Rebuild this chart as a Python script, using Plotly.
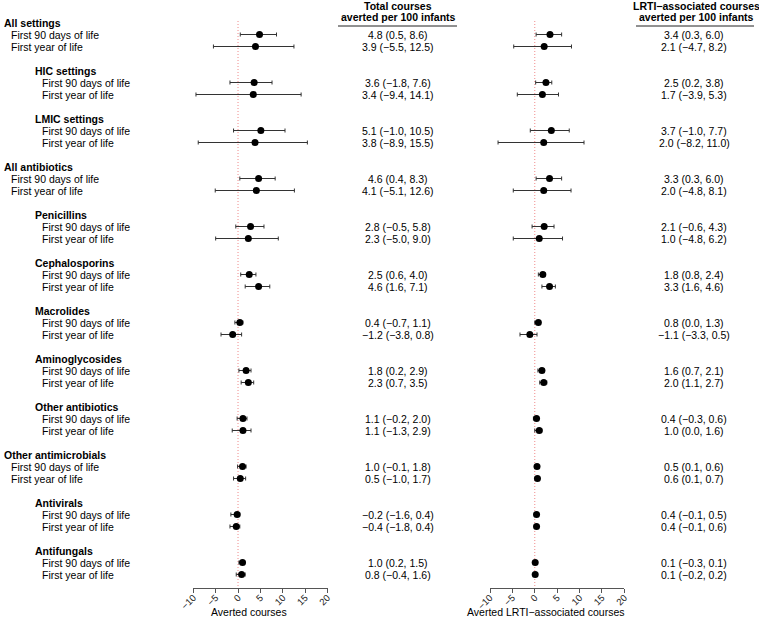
import plotly.graph_objects as go

W, H = 759, 617

groups = ["All settings", "HIC settings", "LMIC settings", "All antibiotics", "Penicillins",
          "Cephalosporins", "Macrolides", "Aminoglycosides", "Other antibiotics",
          "Other antimicrobials", "Antivirals", "Antifungals"]
levels = [0, 1, 1, 0, 1, 1, 1, 1, 1, 0, 1, 1]
periods = ["First 90 days of life", "First year of life"]

total_est_90 = [4.8, 3.6, 5.1, 4.6, 2.8, 2.5, 0.4, 1.8, 1.1, 1.0, -0.2, 1.0]
total_lo_90 = [0.5, -1.8, -1.0, 0.4, -0.5, 0.6, -0.7, 0.2, -0.2, -0.1, -1.6, 0.2]
total_hi_90 = [8.6, 7.6, 10.5, 8.3, 5.8, 4.0, 1.1, 2.9, 2.0, 1.8, 0.4, 1.5]
total_est_1y = [3.9, 3.4, 3.8, 4.1, 2.3, 4.6, -1.2, 2.3, 1.1, 0.5, -0.4, 0.8]
total_lo_1y = [-5.5, -9.4, -8.9, -5.1, -5.0, 1.6, -3.8, 0.7, -1.3, -1.0, -1.8, -0.4]
total_hi_1y = [12.5, 14.1, 15.5, 12.6, 9.0, 7.1, 0.8, 3.5, 2.9, 1.7, 0.4, 1.6]

lrti_est_90 = [3.4, 2.5, 3.7, 3.3, 2.1, 1.8, 0.8, 1.6, 0.4, 0.5, 0.4, 0.1]
lrti_lo_90 = [0.3, 0.2, -1.0, 0.3, -0.6, 0.8, 0.0, 0.7, -0.3, 0.1, -0.1, -0.3]
lrti_hi_90 = [6.0, 3.8, 7.7, 6.0, 4.3, 2.4, 1.3, 2.1, 0.6, 0.6, 0.5, 0.1]
lrti_est_1y = [2.1, 1.7, 2.0, 2.0, 1.0, 3.3, -1.1, 2.0, 1.0, 0.6, 0.4, 0.1]
lrti_lo_1y = [-4.7, -3.9, -8.2, -4.8, -4.8, 1.6, -3.3, 1.1, 0.0, 0.1, -0.1, -0.2]
lrti_hi_1y = [8.2, 5.3, 11.0, 8.1, 6.2, 4.6, 0.5, 2.7, 1.6, 0.7, 0.6, 0.2]

x_ticks = [-10, -5, 0, 5, 10, 15, 20]
header_total = ["Total courses", "averted per 100 infants"]
header_lrti = ["LRTI\u2212associated courses", "averted per 100 infants"]
xtitle_total = "Averted courses"
xtitle_lrti = "Averted LRTI\u2212associated courses"

FONT = "Liberation Sans, Arial, sans-serif"
FS = 10.5

# layout helpers (pixel -> coordinates)
ROW_PX = 12.0
ROW0_PX = 22.5
def px_to_v(p):
    return (p - ROW0_PX) / ROW_PX
def py(p):
    return 1 - p / H
def px(p):
    return p / W

def fmt(e, lo, hi):
    s = f"{e:.1f} ({lo:.1f}, {hi:.1f})"
    return s.replace("-", "\u2212")

def txt(x, y, text, xanchor="left", yref="y"):
    return dict(x=x, y=y, xref="paper", yref=yref, text=text, showarrow=False,
                xanchor=xanchor, yanchor="middle",
                font=dict(size=FS, color="black", family=FONT))

# build rows
ys, t_e, t_lo, t_hi, l_e, l_lo, l_hi = [], [], [], [], [], [], []
annotations = []
for g, name in enumerate(groups):
    base = 4 * g
    lvl = levels[g]
    hx = 2 if lvl == 0 else 33
    annotations.append(txt(px(hx), base, f"<b>{name}</b>"))
    vals = [
        (total_est_90[g], total_lo_90[g], total_hi_90[g], lrti_est_90[g], lrti_lo_90[g], lrti_hi_90[g]),
        (total_est_1y[g], total_lo_1y[g], total_hi_1y[g], lrti_est_1y[g], lrti_lo_1y[g], lrti_hi_1y[g]),
    ]
    for k, per in enumerate(periods):
        y = base + 1 + k
        ys.append(y)
        te, tl, th, le, ll, lh = vals[k]
        t_e.append(te); t_lo.append(tl); t_hi.append(th)
        l_e.append(le); l_lo.append(ll); l_hi.append(lh)
        annotations.append(txt(px(hx + 7), y, per))
        annotations.append(txt(px(398), y, fmt(te, tl, th), "center"))
        annotations.append(txt(px(694), y, fmt(le, ll, lh), "center"))

# headers
for i, (txt_t, txt_l) in enumerate(zip(header_total, header_lrti)):
    yy = [6.0, 17.5][i]
    annotations.append(txt(px(398), py(yy), f"<b>{txt_t}</b>", "center", "paper"))
    annotations.append(txt(px(696), py(yy), f"<b>{txt_l}</b>", "center", "paper"))

# axis titles
annotations.append(txt(px(249), py(611.5), xtitle_total, "center", "paper"))
annotations.append(txt(px(546), py(611.5), xtitle_lrti, "center", "paper"))

fig = go.Figure()

def add_forest(est, lo, hi, xa):
    fig.add_trace(go.Scatter(
        x=est, y=ys, mode="markers", xaxis=xa, yaxis="y",
        marker=dict(color="black", size=7, line=dict(width=0)),
        error_x=dict(type="data", symmetric=False,
                     array=[h - e for e, h in zip(est, hi)],
                     arrayminus=[e - l for e, l in zip(est, lo)],
                     color="#333333", thickness=1, width=2),
        showlegend=False, hoverinfo="skip", cliponaxis=False))

add_forest(t_e, t_lo, t_hi, "x")
add_forest(l_e, l_lo, l_hi, "x2")

y_top = px_to_v(0)
y_bot = px_to_v(H)
axis_pos = (H - 587.5) / H
line_top = px_to_v(21)
line_bot = px_to_v(587)

shapes = []
for xr in ["x", "x2"]:
    shapes.append(dict(type="line", xref=xr, yref="y", x0=0, x1=0, y0=line_top, y1=line_bot,
                       line=dict(color="#f08a8a", width=1, dash="1px,2px"), layer="below"))
shapes.append(dict(type="line", xref="paper", yref="paper", x0=px(338), x1=px(457),
                   y0=py(26), y1=py(26), line=dict(color="#222222", width=1)))
shapes.append(dict(type="line", xref="paper", yref="paper", x0=px(636), x1=px(754),
                   y0=py(26), y1=py(26), line=dict(color="#222222", width=1)))

xaxis_common = dict(range=[-10, 20], tickvals=x_ticks, ticks="outside", ticklen=4,
                    tickcolor="#555555", showline=True, linecolor="#555555", linewidth=1,
                    showgrid=False, zeroline=False, tickangle=-45, anchor="free",
                    position=axis_pos, fixedrange=True, automargin=False,
                    ticklabelstandoff=-4,
                    tickfont=dict(size=9.5, color="#222222", family=FONT))

fig.update_layout(
    template="none",
    width=W, height=H,
    autosize=False,
    margin=dict(l=0, r=0, t=0, b=0, pad=0),
    paper_bgcolor="white", plot_bgcolor="rgba(0,0,0,0)",
    xaxis=dict(domain=[px(193.3), px(327.5)], **xaxis_common),
    xaxis2=dict(domain=[px(490), px(624.3)], **xaxis_common),
    yaxis=dict(range=[y_bot, y_top], visible=False, domain=[0, 1], fixedrange=True,
               automargin=False),
    shapes=shapes,
    annotations=annotations,
    font=dict(family=FONT, size=FS, color="black"),
    showlegend=False,
)

fig.write_html(
    "out.html",
    config={"displayModeBar": False},
    post_script="document.body.style.margin='0';document.body.style.padding='0';"
                "document.body.style.overflow='hidden';",
)
